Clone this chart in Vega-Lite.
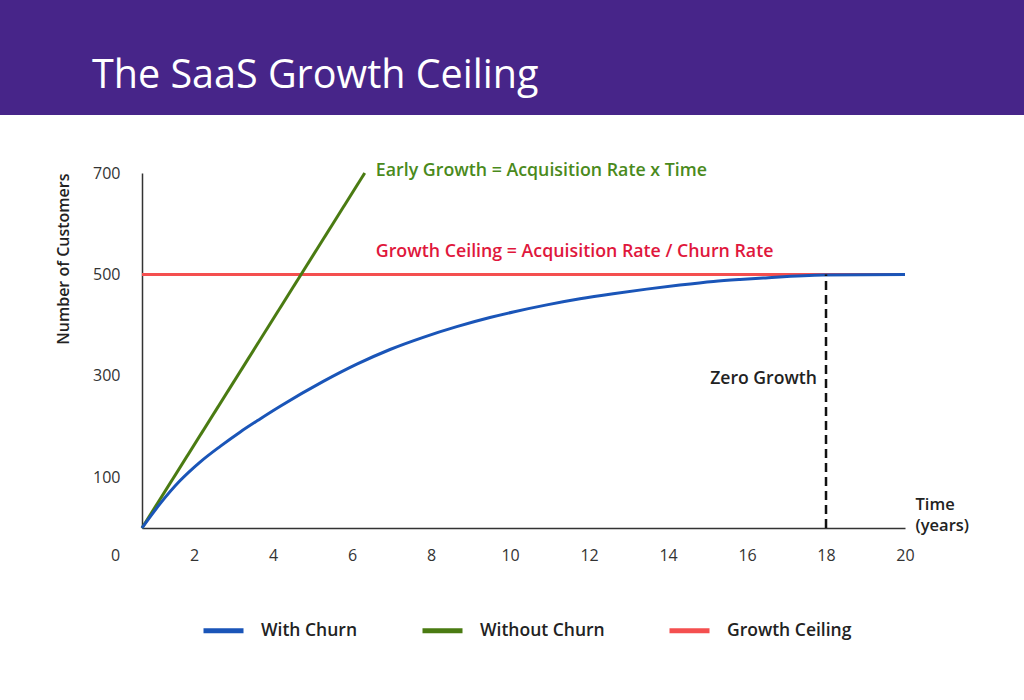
{
  "$schema": "https://vega.github.io/schema/vega-lite/v6.json",
  "padding": 0,
  "spacing": 0,
  "background": "#ffffff",
  "config": {
    "font": "Open Sans",
    "view": {"stroke": null},
    "axis": {"grid": false, "ticks": false}
  },
  "vconcat": [
    {
      "width": 1024,
      "height": 115,
      "view": {"fill": "#472589", "stroke": null},
      "title": {
        "text": "The SaaS Growth Ceiling",
        "orient": "bottom",
        "anchor": "start",
        "frame": "group",
        "offset": -27,
        "dx": 92,
        "baseline": "alphabetic",
        "fontSize": 39.5,
        "fontWeight": 500,
        "color": "#ffffff",
        "font": "Open Sans"
      },
      "data": {"values": [{"k": 1}]},
      "mark": {"type": "point", "opacity": 0},
      "encoding": {}
    },
    {
      "width": 1024,
      "height": 585,
      "encoding": {
        "x": {
          "field": "t",
          "type": "quantitative",
          "scale": {"domain": [0.68, 20], "range": [142, 905], "nice": false, "zero": false},
          "axis": {
            "values": [0.68, 2, 4, 6, 8, 10, 12, 14, 16, 18, 20],
            "labelExpr": "datum.value < 1 ? '0' : format(datum.value, 'd')",
            "labelOffset": {"condition": {"test": "datum.value < 1", "value": -27}, "value": 0},
            "offset": -172,
            "labelPadding": 19,
            "labelFontSize": 16,
            "labelColor": "#333333",
            "labelFlush": false,
            "labelOverlap": false,
            "domainColor": "#333333",
            "domainWidth": 1.5,
            "title": ["Time", "(years)"],
            "titleX": 915,
            "titleY": -19,
            "titleAlign": "left",
            "titleBaseline": "alphabetic",
            "titleAngle": 0,
            "titleFontSize": 16.5,
            "titleFontWeight": 600,
            "titleColor": "#222222",
            "titleLineHeight": 21
          }
        },
        "y": {
          "field": "n",
          "type": "quantitative",
          "scale": {"domain": [0, 700], "range": [413, 58], "nice": false, "zero": false},
          "axis": {
            "values": [100, 300, 500, 700],
            "offset": -142,
            "labelPadding": 22,
            "labelFontSize": 16,
            "labelColor": "#333333",
            "domainColor": "#333333",
            "domainWidth": 1.5,
            "title": "Number of Customers",
            "titleFontSize": 16,
            "titleFontWeight": 600,
            "titleColor": "#222222",
            "titlePadding": 21,
            "titleAnchor": "end"
          }
        }
      },
      "layer": [
        {
          "data": {
            "values": [
              {"series": "Growth Ceiling", "t": 0.68, "n": 500},
              {"series": "Growth Ceiling", "t": 20, "n": 500},
              {"series": "Without Churn", "t": 0.68, "n": 0},
              {"series": "Without Churn", "t": 6.32, "n": 700},
              {"series": "With Churn", "t": 0.68, "n": 0},
              {"series": "With Churn", "t": 1.14, "n": 48},
              {"series": "With Churn", "t": 1.64, "n": 93},
              {"series": "With Churn", "t": 2.15, "n": 130},
              {"series": "With Churn", "t": 2.66, "n": 161},
              {"series": "With Churn", "t": 3.16, "n": 189},
              {"series": "With Churn", "t": 3.67, "n": 215},
              {"series": "With Churn", "t": 4.18, "n": 240},
              {"series": "With Churn", "t": 5.27, "n": 289},
              {"series": "With Churn", "t": 6.12, "n": 323},
              {"series": "With Churn", "t": 6.96, "n": 352},
              {"series": "With Churn", "t": 7.8, "n": 376},
              {"series": "With Churn", "t": 8.65, "n": 397},
              {"series": "With Churn", "t": 9.49, "n": 415},
              {"series": "With Churn", "t": 10.08, "n": 426},
              {"series": "With Churn", "t": 10.93, "n": 440},
              {"series": "With Churn", "t": 11.77, "n": 452},
              {"series": "With Churn", "t": 12.61, "n": 462},
              {"series": "With Churn", "t": 13.46, "n": 471},
              {"series": "With Churn", "t": 14.3, "n": 479},
              {"series": "With Churn", "t": 15.15, "n": 486},
              {"series": "With Churn", "t": 15.82, "n": 490},
              {"series": "With Churn", "t": 16.41, "n": 493},
              {"series": "With Churn", "t": 17.93, "n": 499},
              {"series": "With Churn", "t": 20, "n": 500}
            ]
          },
          "mark": {"type": "line", "strokeWidth": 3, "interpolate": "monotone"},
          "encoding": {
            "color": {
              "field": "series",
              "type": "nominal",
              "scale": {
                "domain": ["With Churn", "Without Churn", "Growth Ceiling"],
                "range": ["#1a55b8", "#4a7b12", "#f44f4f"]
              },
              "legend": {
                "orient": "none",
                "legendX": 201,
                "legendY": 608,
                "direction": "horizontal",
                "title": null,
                "symbolType": "stroke",
                "symbolSize": 1600,
                "symbolStrokeWidth": 5,
                "labelFont": "Open Sans",
                "labelFontSize": 17.5,
                "labelFontWeight": 600,
                "labelColor": "#222222",
                "labelOffset": 15,
                "columnPadding": 54,
                "padding": 0
              }
            }
          }
        },
        {
          "data": {"values": [{"t": 18, "n": 0, "n2": 500}]},
          "mark": {"type": "rule", "color": "#111111", "strokeWidth": 2.5, "strokeDash": [9, 5]},
          "encoding": {"y2": {"field": "n2"}}
        },
        {
          "data": {"values": [{"t": 6.6, "n": 694, "label": "Early Growth = Acquisition Rate x Time"}]},
          "mark": {"type": "text", "align": "left", "baseline": "alphabetic", "fontSize": 17.8, "fontWeight": 600, "color": "#4a8a1c", "font": "Open Sans"},
          "encoding": {"text": {"field": "label"}}
        },
        {
          "data": {"values": [{"t": 6.6, "n": 534, "label": "Growth Ceiling = Acquisition Rate / Churn Rate"}]},
          "mark": {"type": "text", "align": "left", "baseline": "alphabetic", "fontSize": 17.8, "fontWeight": 600, "color": "#e0173c", "font": "Open Sans"},
          "encoding": {"text": {"field": "label"}}
        },
        {
          "data": {"values": [{"t": 17.77, "n": 283, "label": "Zero Growth"}]},
          "mark": {"type": "text", "align": "right", "baseline": "alphabetic", "fontSize": 17.6, "fontWeight": 600, "color": "#222222", "font": "Open Sans"},
          "encoding": {"text": {"field": "label"}}
        }
      ]
    }
  ]
}
